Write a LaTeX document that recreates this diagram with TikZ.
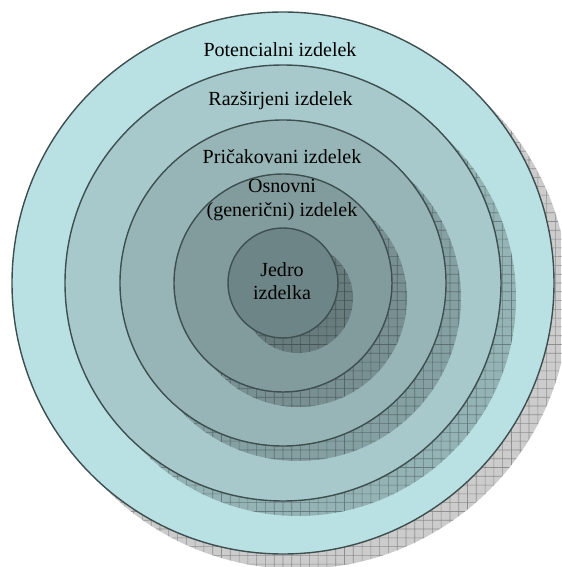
\documentclass[tikz,border=0pt]{standalone}
\usepackage{fontspec}
\setmainfont{Liberation Serif}
\usetikzlibrary{patterns.meta}
\definecolor{ringline}{HTML}{3E4F50}
\definecolor{ringA}{HTML}{B9E0E3}
\definecolor{ringB}{HTML}{A7C9CB}
\definecolor{ringC}{HTML}{97B5B7}
\definecolor{ringD}{HTML}{829C9E}
\definecolor{ringE}{HTML}{6D8587}
% shadow disc: grey tint plus a faint grid, offset to the lower right
\newcommand{\shadowdisc}[2]{%
  \node[shade=#2] (#1) at (0.3,-0.3) {};
  \begin{scope}[transparency group, opacity=0.3]
    \node[grid disc=#2] at (0.3,-0.3) {};
  \end{scope}}

\begin{document}
\begin{tikzpicture}[
    font=\fontsize{11.4}{13.2}\selectfont,
    ring/.style={circle, draw=ringline, line width=0.8pt, inner sep=0pt,
                 minimum size=#1},
    shade/.style={circle, inner sep=0pt, minimum size=#1,
                  fill=black, fill opacity=0.2},
    grid disc/.style={circle, inner sep=0pt, minimum size=#1,
                  pattern={Hatch[angle=0, distance=5pt, line width=0.35pt]},
                  pattern color=black},
    lab/.style={align=center, inner sep=1pt},
  ]

  \useasboundingbox (-5.66,-5.68) rectangle (5.56,5.66);
  \clip (-5.66,-5.68) rectangle (5.56,5.66);

  %% ---- rings, outermost first, each with its shadow ------------------
  \shadowdisc{sA}{10.84cm}
  \node[ring=10.84cm, fill=ringA] (A) at (0,0) {};
  \shadowdisc{sB}{8.72cm}
  \node[ring=8.72cm, fill=ringB]  (B) at (0,0) {};
  \shadowdisc{sC}{6.52cm}
  \node[ring=6.52cm, fill=ringC]  (C) at (0,0) {};
  \shadowdisc{sD}{4.36cm}
  \node[ring=4.36cm, fill=ringD]  (D) at (0,0) {};
  \shadowdisc{sE}{2.20cm}
  \node[ring=2.20cm, fill=ringE]  (E) at (0,0) {};

  %% ---- labels ---------------------------------------------------------
  \node[lab] (lA) at (-0.06,4.66) {Potencialni izdelek};
  \node[lab] (lB) at (-0.05,3.64) {Razširjeni izdelek};
  \node[lab] (lC) at (-0.02,2.52) {Pričakovani izdelek};
  \node[lab] (lD) at (-0.02,1.66) {Osnovni\\ (generični) izdelek};
  \node[lab] (lE) at (-0.02,0.03) {Jedro\\ izdelka};

\end{tikzpicture}
\end{document}
